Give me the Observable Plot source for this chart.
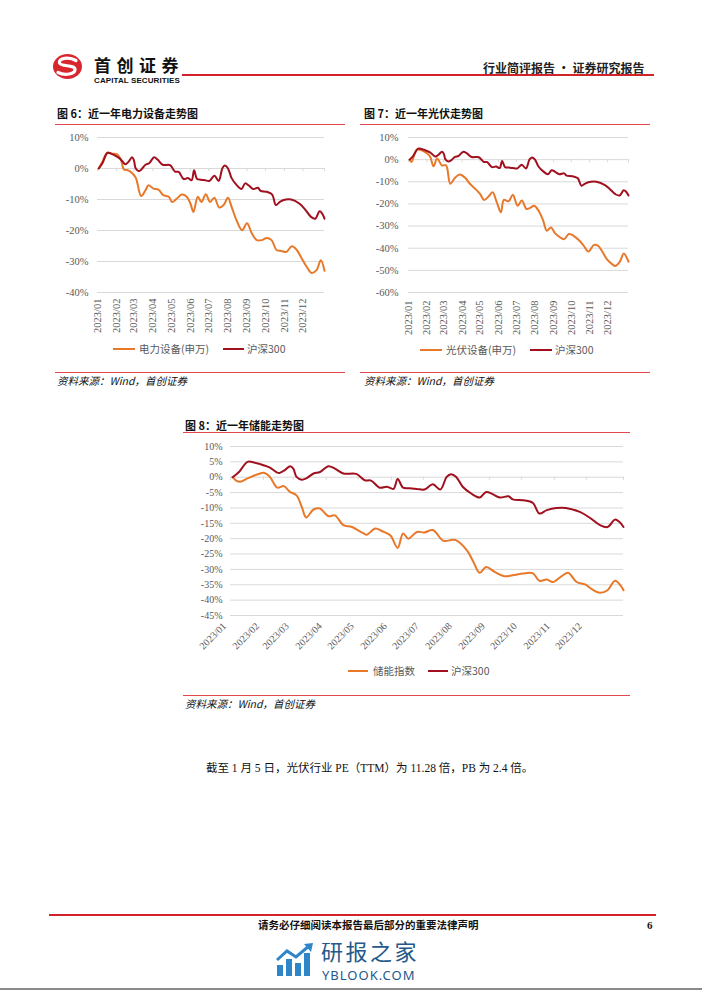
<!DOCTYPE html>
<html><head><meta charset="utf-8">
<script src="https://cdn.jsdelivr.net/npm/d3@7"></script>
<script src="https://cdn.jsdelivr.net/npm/@observablehq/plot@0.6"></script>
<style>
body{margin:0;background:#fff}
#page{position:relative;width:702px;height:991px;overflow:hidden;background:#fff;font-family:"Noto Sans CJK SC",sans-serif}
.abs{position:absolute;white-space:nowrap}
.rule{position:absolute;height:1px;background:#E2474B}
.title{font-size:11px;color:#111;line-height:14px;font-weight:bold}
.src{font-size:10.5px;font-style:italic;line-height:14px;color:#111}
.leg{font-size:10.5px;color:#595959;line-height:14px}
.sw{position:absolute;height:2px}
.chart{position:absolute}
</style></head>
<body>
<div id="page">
  <!-- header -->
  <svg class="abs" style="left:52px;top:53px" width="31" height="27" viewBox="0 0 31 27">
    <ellipse cx="15.5" cy="13.5" rx="14.5" ry="12.5" fill="#D7262E"/>
    <path d="M24 7.5 C 17 3.5, 6 5, 7.5 10 C 9 14, 23 11.5, 23 16.5 C 23 21, 13 23, 6 19.5" stroke="#fff" stroke-width="3.2" fill="none" stroke-linecap="round"/>
  </svg>
  <div class="abs" style="left:94px;top:55px;font-size:17px;font-weight:bold;letter-spacing:5.5px;line-height:20px;color:#111">首创证券</div>
  <div class="abs" style="left:94px;top:76px;font-size:8px;font-weight:bold;font-family:'Liberation Sans',Arial,sans-serif;line-height:9px;color:#111;letter-spacing:0.1px">CAPITAL SECURITIES</div>
  <div class="abs" style="left:182px;top:74px;width:472px;height:2px;background:#D2232A"></div>
  <div class="abs" style="left:483px;top:60px;font-size:12px;font-weight:bold;line-height:15px;color:#222">行业简评报告 · 证券研究报告</div>

  <!-- chart 6 -->
  <div class="abs title" style="left:57px;top:106px">图 6：近一年电力设备走势图</div>
  <div class="rule" style="left:55px;top:124px;width:290px"></div>
  <div id="c6" class="chart" style="left:55px;top:128px"></div>
  <div class="sw" style="left:113px;top:348px;width:22px;background:#E8782A"></div>
  <div class="abs leg" style="left:139px;top:342px">电力设备(申万)</div>
  <div class="sw" style="left:223px;top:348px;width:21px;background:#A0101E"></div>
  <div class="abs leg" style="left:247px;top:342px">沪深300</div>
  <div class="rule" style="left:55px;top:372px;width:290px"></div>
  <div class="abs src" style="left:57px;top:374px">资料来源：Wind，首创证券</div>

  <!-- chart 7 -->
  <div class="abs title" style="left:364px;top:106px">图 7：近一年光伏走势图</div>
  <div class="rule" style="left:360px;top:124px;width:290px"></div>
  <div id="c7" class="chart" style="left:360px;top:128px"></div>
  <div class="sw" style="left:420px;top:349px;width:22px;background:#E8782A"></div>
  <div class="abs leg" style="left:446px;top:343px">光伏设备(申万)</div>
  <div class="sw" style="left:530px;top:349px;width:22px;background:#A0101E"></div>
  <div class="abs leg" style="left:555px;top:343px">沪深300</div>
  <div class="rule" style="left:360px;top:372px;width:290px"></div>
  <div class="abs src" style="left:364px;top:374px">资料来源：Wind，首创证券</div>

  <!-- chart 8 -->
  <div class="abs title" style="left:185px;top:418px">图 8：近一年储能走势图</div>
  <div class="rule" style="left:183px;top:432px;width:447px"></div>
  <div id="c8" class="chart" style="left:183px;top:436px"></div>
  <div class="sw" style="left:348px;top:670px;width:20px;background:#E8782A"></div>
  <div class="abs leg" style="left:373px;top:664px">储能指数</div>
  <div class="sw" style="left:428px;top:670px;width:20px;background:#A0101E"></div>
  <div class="abs leg" style="left:451px;top:664px">沪深300</div>
  <div class="rule" style="left:183px;top:695px;width:447px"></div>
  <div class="abs src" style="left:185px;top:697px">资料来源：Wind，首创证券</div>

  <!-- body text -->
  <div class="abs" style="left:206px;top:761px;font-size:11.5px;line-height:15px;color:#111;font-family:'Liberation Serif','Noto Sans CJK SC',serif">截至 1 月 5 日，光伏行业 PE（TTM）为 11.28 倍，PB 为 2.4 倍。</div>

  <!-- footer -->
  <div class="abs" style="left:49px;top:914px;width:607px;height:2px;background:#D2232A"></div>
  <div class="abs" style="left:258px;top:918px;font-size:10.5px;font-weight:bold;line-height:14px;color:#111">请务必仔细阅读本报告最后部分的重要法律声明</div>
  <div class="abs" style="left:647px;top:918px;font-size:11px;font-weight:bold;line-height:14px;color:#111;font-family:'Liberation Serif',serif">6</div>

  <!-- watermark -->
  <svg class="abs" style="left:276px;top:943px" width="38" height="33" viewBox="0 0 38 33">
    <rect x="1" y="22" width="6" height="11" fill="#2E86C8"/>
    <rect x="10" y="16" width="6" height="17" fill="#2E86C8"/>
    <rect x="19" y="20" width="6" height="13" fill="#2E86C8"/>
    <rect x="28" y="10" width="6" height="23" fill="#2E86C8"/>
    <polyline points="1,17 11,8 20,14 33,3" stroke="#2E86C8" stroke-width="3" fill="none"/>
    <polygon points="28,1 37,0 35,9" fill="#2E86C8"/>
  </svg>
  <div class="abs" style="left:321px;top:937px;font-size:22px;line-height:26px;color:#24598A;letter-spacing:2.5px">研报之家</div>
  <div class="abs" style="left:322px;top:969px;font-size:13px;line-height:13px;color:#24598A;font-family:'Noto Sans',sans-serif;letter-spacing:1px">YBLOOK.COM</div>
  <div class="abs" style="left:0;top:988px;width:702px;height:2px;background:#8a8a8a"></div>
</div>

<script>
// ---------- data ----------
const seriesNames6 = ["电力设备(申万)", "沪深300"];
const seriesNames7 = ["光伏设备(申万)", "沪深300"];
const seriesNames8 = ["储能指数", "沪深300"];

const hsDates = ["2023-01-03","2023-01-09","2023-01-17","2023-01-23","2023-02-01","2023-02-07","2023-02-14","2023-02-16","2023-02-21","2023-02-26","2023-03-01","2023-03-04","2023-03-09","2023-03-13","2023-03-20","2023-03-26","2023-04-03","2023-04-09","2023-04-17","2023-04-29","2023-05-07","2023-05-13","2023-05-21","2023-05-28","2023-06-03","2023-06-07","2023-06-12","2023-06-18","2023-06-25","2023-07-02","2023-07-10","2023-07-17","2023-07-23","2023-07-27","2023-08-01","2023-08-07","2023-08-15","2023-08-23","2023-08-29","2023-09-04","2023-09-11","2023-09-19","2023-09-23","2023-10-03","2023-10-12","2023-10-18","2023-10-25","2023-11-03","2023-11-12","2023-11-25","2023-12-04","2023-12-14","2023-12-21","2023-12-28","2024-01-01","2024-01-05"];
const hs300 = [0,1.7,5.0,4.8,3.9,3.1,1.5,1.4,2.3,3.6,2.8,0.1,-0.8,-0.4,1.2,1.7,3.6,2.8,1.2,1.1,-1.0,-1.1,-3.4,-3.1,-3.8,-0.6,-3.4,-3.6,-3.8,-4.0,-2.3,-4.0,0.1,1.0,0.1,-3.1,-5.3,-6.6,-4.8,-5.5,-6.6,-6.2,-7.2,-7.5,-8.4,-11.8,-10.7,-10.0,-10.0,-11.3,-13.1,-15.6,-16.2,-13.8,-14.5,-16.2];

const elecDates = ["2023-01-03","2023-01-09","2023-01-17","2023-01-25","2023-02-02","2023-02-08","2023-02-13","2023-02-18","2023-02-24","2023-03-04","2023-03-13","2023-03-20","2023-03-25","2023-04-02","2023-04-10","2023-04-18","2023-04-27","2023-05-02","2023-05-10","2023-05-18","2023-05-26","2023-06-01","2023-06-06","2023-06-13","2023-06-19","2023-06-26","2023-07-03","2023-07-10","2023-07-18","2023-07-25","2023-08-01","2023-08-07","2023-08-15","2023-08-24","2023-09-01","2023-09-09","2023-09-17","2023-09-25","2023-10-03","2023-10-11","2023-10-19","2023-10-27","2023-11-04","2023-11-13","2023-11-21","2023-11-29","2023-12-07","2023-12-15","2023-12-23","2023-12-30","2024-01-05"];
const elecEquip = [0,2.2,5.1,4.8,4.6,2.9,-0.3,-0.5,-1.1,-2.9,-8.9,-7.0,-5.4,-6.5,-6.8,-8.6,-9.1,-10.8,-9.7,-8.4,-9.1,-11.3,-14.0,-9.1,-10.8,-8.3,-10.8,-9.4,-12.6,-11.8,-9.4,-12.4,-16.7,-19.9,-17.7,-21.0,-23.1,-23.1,-22.4,-23.1,-26.3,-26.6,-26.9,-25.1,-26.3,-29.0,-31.7,-33.7,-32.8,-29.6,-33.0];

const pvDates = ["2023-01-03","2023-01-06","2023-01-15","2023-01-23","2023-01-31","2023-02-06","2023-02-12","2023-02-18","2023-02-26","2023-03-05","2023-03-12","2023-03-20","2023-03-28","2023-04-06","2023-04-14","2023-04-23","2023-05-01","2023-05-08","2023-05-15","2023-05-22","2023-05-29","2023-06-05","2023-06-10","2023-06-18","2023-06-25","2023-07-03","2023-07-10","2023-07-18","2023-07-24","2023-07-31","2023-08-07","2023-08-15","2023-08-21","2023-08-28","2023-09-04","2023-09-13","2023-09-19","2023-09-27","2023-10-05","2023-10-14","2023-10-22","2023-10-30","2023-11-08","2023-11-15","2023-11-22","2023-11-30","2023-12-09","2023-12-14","2023-12-22","2023-12-28","2024-01-05"];
const pvEquip = [0,-1.1,4.5,4.2,3.0,1.5,-3.0,0.5,-2.6,-2.6,-10.9,-8.2,-6.7,-8.2,-10.9,-13.2,-15.5,-18.2,-16.7,-14.7,-19.2,-23.8,-18.2,-18.8,-15.8,-20.8,-18.5,-22.3,-21.8,-20.8,-23.0,-27.6,-32.1,-30.6,-33.3,-35.2,-35.9,-33.6,-34.4,-36.4,-38.9,-41.5,-38.5,-38.9,-41.5,-45.0,-47.3,-48.0,-45.8,-42.4,-46.1];

const storageDates = ["2023-01-03","2023-01-06","2023-01-10","2023-01-17","2023-01-26","2023-02-02","2023-02-07","2023-02-14","2023-02-20","2023-02-26","2023-03-04","2023-03-09","2023-03-13","2023-03-20","2023-03-26","2023-04-03","2023-04-09","2023-04-17","2023-04-25","2023-05-06","2023-05-09","2023-05-17","2023-05-23","2023-05-31","2023-06-07","2023-06-12","2023-06-17","2023-06-25","2023-07-02","2023-07-10","2023-07-20","2023-07-31","2023-08-11","2023-08-17","2023-08-23","2023-08-29","2023-09-06","2023-09-15","2023-09-23","2023-10-03","2023-10-12","2023-10-18","2023-10-25","2023-10-31","2023-11-08","2023-11-14","2023-11-22","2023-11-30","2023-12-07","2023-12-14","2023-12-21","2023-12-28","2024-01-02","2024-01-05"];
const storage = [0,-1.0,-1.5,-0.4,0.9,1.4,0.1,-3.4,-2.9,-4.8,-5.9,-9.7,-13.1,-10.5,-10.2,-12.7,-12.4,-15.6,-16.2,-18.3,-18.7,-16.7,-17.5,-18.9,-23.0,-18.3,-20.0,-17.8,-18.0,-17.2,-20.7,-20.4,-23.8,-27.5,-31.1,-29.2,-30.8,-32.2,-31.9,-31.3,-31.3,-33.7,-33.3,-34.1,-32.2,-31.1,-34.1,-34.9,-36.6,-37.6,-36.8,-33.7,-35.1,-36.8];

const monthTickLabels = ["2023/01","2023/02","2023/03","2023/04","2023/05","2023/06","2023/07","2023/08","2023/09","2023/10","2023/11","2023/12"];
const yTicks6 = [10,0,-10,-20,-30,-40];
const yTicks7 = [10,0,-10,-20,-30,-40,-50,-60];
const yTicks8 = [10,5,0,-5,-10,-15,-20,-25,-30,-35,-40,-45];
const lineColors = ["#E8782A", "#A0101E"];

// ---------- helpers ----------
const parse = d3.utcParse("%Y-%m-%d");
const monthTicks = monthTickLabels.map(s => d3.utcParse("%Y/%m")(s));
const xDomain = [parse("2023-01-01"), parse("2024-01-05")];

function rows(name, dates, values) {
  return dates.map((d, i) => ({date: parse(d), value: values[i], name}));
}

function chart(o) {
  const data = [...rows(o.names[0], o.dates, o.values), ...rows(o.names[1], hsDates, hs300)];
  return Plot.plot({
    width: o.width, height: o.height,
    marginLeft: o.ml, marginRight: o.mr, marginTop: o.mt, marginBottom: o.mb,
    style: {fontFamily: '"Liberation Serif", "Times New Roman", serif', fontSize: o.fs + "px", color: "#595959", background: "transparent", overflow: "visible"},
    x: {type: "utc", domain: xDomain, label: null},
    y: {domain: o.yDomain, label: null},
    color: {domain: o.names, range: lineColors},
    marks: [
      Plot.gridY(o.yTicks, {stroke: "#D9D9D9", strokeOpacity: 1}),
      Plot.ruleX([...monthTicks, xDomain[1]], {x: d => d, y1: 0, y2: o.tickDepth, stroke: "#D9D9D9"}),
      Plot.axisY(o.yTicks, {tickSize: 0, tickPadding: o.yPad, tickFormat: d => d + "%", fill: "#595959", label: null}),
      Plot.axisX(monthTicks, {tickSize: 0, tickPadding: o.xPad, tickRotate: o.rot, tickFormat: (d, i) => monthTickLabels[i], fill: "#595959", dx: o.dx || 0, label: null}),
      Plot.line(data, {x: "date", y: "value", z: "name", stroke: "name", strokeWidth: 2, curve: "catmull-rom"})
    ]
  });
}

document.getElementById("c6").append(chart({
  names: seriesNames6, dates: elecDates, values: elecEquip,
  width: 290, height: 215, ml: 42, mr: 21, mt: 9, mb: 51, fs: 10.5,
  yDomain: [-40, 10], yTicks: yTicks6, yPad: 9, xPad: 6, rot: -90, tickDepth: -1
}));
document.getElementById("c7").append(chart({
  names: seriesNames7, dates: pvDates, values: pvEquip,
  width: 290, height: 215, ml: 48, mr: 22, mt: 9, mb: 51, fs: 10.5,
  yDomain: [-60, 10], yTicks: yTicks7, yPad: 10, xPad: 8, rot: -90, tickDepth: -1.4
}));
document.getElementById("c8").append(chart({
  names: seriesNames8, dates: storageDates, values: storage,
  width: 447, height: 220, ml: 47, mr: 7, mt: 10, mb: 41, fs: 10,
  yDomain: [-45, 10], yTicks: yTicks8, yPad: 8, xPad: 9, rot: -45, dx: -6, tickDepth: -1
}));
</script>
</body></html>
